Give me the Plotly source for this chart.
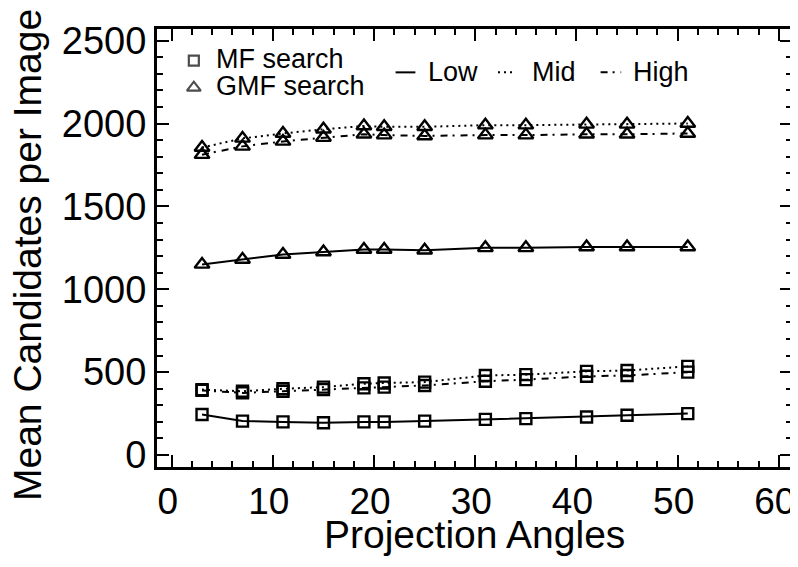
import plotly.graph_objects as go

# Projection angles (x) and mean candidate counts
angles = [3, 7, 11, 15, 19, 21, 25, 31, 35, 41, 45, 51]

mf_low = [245, 205, 200, 195, 200, 200, 205, 215, 220, 230, 240, 250]
mf_mid = [395, 385, 400, 410, 430, 435, 440, 480, 485, 505, 510, 535]
mf_high = [390, 375, 385, 395, 405, 410, 420, 445, 455, 475, 480, 500]

gmf_low = [1150, 1180, 1210, 1225, 1240, 1240, 1235, 1250, 1250, 1255, 1255, 1255]
gmf_mid = [1855, 1910, 1940, 1965, 1985, 1980, 1980, 1990, 1990, 1995, 1995, 2000]
gmf_high = [1812, 1862, 1892, 1915, 1935, 1930, 1925, 1930, 1930, 1935, 1935, 1940]

FONT = "Liberation Sans, Arial, Helvetica, sans-serif"
styles = {"Low": "solid", "Mid": "2px,4px", "High": "7px,5px,2px,6px"}

fig = go.Figure()

series = [
    ("MF", "Low", mf_low), ("MF", "Mid", mf_mid), ("MF", "High", mf_high),
    ("GMF", "Low", gmf_low), ("GMF", "Mid", gmf_mid), ("GMF", "High", gmf_high),
]
for search, level, vals in series:
    symbol = "square-open" if search == "MF" else "triangle-up-open"
    size = 11 if search == "MF" else 13
    fig.add_trace(go.Scatter(
        x=angles, y=vals, mode="lines+markers",
        line=dict(color="black", width=2, dash=styles[level]),
        marker=dict(symbol=symbol, size=size, color="black",
                    line=dict(color="black", width=2.4)),
        showlegend=False,
    ))

# legend keys drawn on a hidden 0-1 overlay axis
fig.add_trace(go.Scatter(
    x=[0.058, 0.058], y=[0.928, 0.866], mode="markers",
    marker=dict(symbol=["square-open", "triangle-up-open"], size=[10, 12],
                color="black", line=dict(color="black", width=2.2)),
    xaxis="x2", yaxis="y2", showlegend=False,
))

legend_text = [
    ("MF search", 0.0898, 0.932),
    ("GMF search", 0.0898, 0.871),
    ("Low", 0.4236, 0.901),
    ("Mid", 0.587, 0.901),
    ("High", 0.7465, 0.901),
]
annotations = [
    dict(text=t, x=x, y=y, xref="x domain", yref="y domain", xanchor="left",
         yanchor="middle", showarrow=False, font=dict(family=FONT, size=27, color="black"))
    for t, x, y in legend_text
]
# axis titles
annotations += [
    dict(text="Projection Angles", x=0.5, y=0, xref="paper", yref="paper",
         xanchor="center", yanchor="middle", yshift=-67, showarrow=False,
         font=dict(family=FONT, size=39, color="black")),
    dict(text="Mean Candidates per Image", x=0, y=0.5, xref="paper", yref="paper",
         xanchor="center", yanchor="middle", xshift=-130, yshift=-7, textangle=-90,
         showarrow=False, font=dict(family=FONT, size=39, color="black")),
]

shapes = [
    dict(type="line", xref="x domain", yref="y domain", x0=0.3757, x1=0.4069,
         y0=0.901, y1=0.901, line=dict(color="black", width=2, dash="solid")),
    dict(type="line", xref="x domain", yref="y domain", x0=0.537, x1=0.565,
         y0=0.901, y1=0.901, line=dict(color="black", width=2, dash="2px,4px")),
    dict(type="line", xref="x domain", yref="y domain", x0=0.6986, x1=0.731,
         y0=0.901, y1=0.901, line=dict(color="black", width=2, dash="7px,5px,2px,6px")),
]

axis_common = dict(
    showline=True, linecolor="black", linewidth=3, mirror="allticks",
    ticks="inside", ticklen=12, tickwidth=2, tickcolor="black",
    showgrid=False, zeroline=False, automargin=False, ticklabeloverflow="allow",
)

# page body adds an 8px margin, so the figure is drawn smaller to fit the window
fig.update_layout(
    template="none",
    width=790, height=551,
    margin=dict(l=149, r=6, t=21, b=92),
    paper_bgcolor="white", plot_bgcolor="white",
    font=dict(family=FONT, color="black"),
    xaxis=dict(
        range=[-1.45, 61.3], tickvals=[0, 10, 20, 30, 40, 50, 60],
        minor=dict(dtick=2, tick0=0, ticks="inside", ticklen=6, tickwidth=2, tickcolor="black"),
        tickfont=dict(family=FONT, size=37, color="black"), ticklabelshift=-4,
        **axis_common,
    ),
    yaxis=dict(
        range=[-72, 2570], tickvals=[0, 500, 1000, 1500, 2000, 2500],
        minor=dict(dtick=100, tick0=0, ticks="inside", ticklen=6, tickwidth=2, tickcolor="black"),
        tickfont=dict(family=FONT, size=38, color="black"),
        **axis_common,
    ),
    xaxis2=dict(range=[0, 1], overlaying="x", visible=False),
    yaxis2=dict(range=[0, 1], overlaying="y", visible=False),
    annotations=annotations,
    shapes=shapes,
)

fig.write_html("out.html")
